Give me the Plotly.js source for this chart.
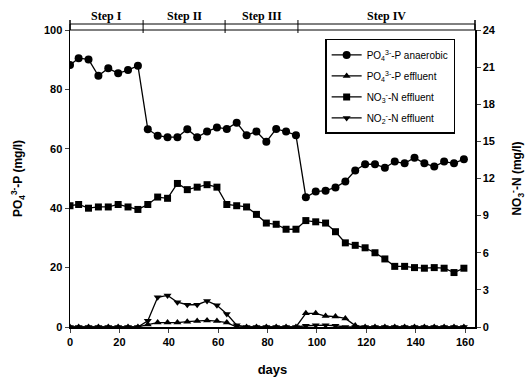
<!DOCTYPE html>
<html>
<head>
<meta charset="utf-8">
<script src="https://cdn.plot.ly/plotly-3.0.1.min.js"></script>
<style>html,body{margin:0;padding:0;background:#fff;}#chart{width:532px;height:382px;}</style>
</head>
<body>
<div id="chart"></div>
<script>
// sampling days
const days = [0, 3.5, 7.5, 11.5, 15.5, 19.5, 23.5, 27.5, 31.5, 35.5, 39.5, 43.5, 47.5, 51.5, 55.5, 59.5,
  63.5, 67.5, 71.5, 75.5, 79.5, 83.5, 87.5, 91.5, 95.5, 99.5, 103.5, 107.5, 111.5, 115.5, 119.5,
  123.5, 127.5, 131.5, 135.5, 139.5, 143.5, 147.5, 151.5, 155.5, 159.5];

// PO4-P anaerobic (mg/l, left axis)
const po4Anaerobic = [88.2, 90.5, 90.1, 84.6, 87.1, 85.4, 86.5, 88.0, 66.6, 64.4, 63.9, 63.9, 66.6, 63.9, 65.8, 67.2,
  66.7, 68.8, 64.6, 65.8, 62.4, 66.7, 65.8, 64.6, 43.7, 45.6, 45.9, 47.0, 49.0, 52.7, 54.8,
  54.8, 53.6, 55.7, 55.1, 57.0, 55.1, 54.0, 55.7, 55.1, 56.5];

// PO4-P effluent (mg/l, left axis)
const po4Effluent = [0, 0, 0, 0, 0, 0, 0, 0, 0.8, 1.5, 1.5, 1.5, 1.8, 2.0, 2.2, 2.0,
  1.5, 0, 0, 0, 0, 0, 0, 0, 4.6, 4.6, 3.7, 3.5, 2.9, 0.5, 0,
  0, 0, 0, 0, 0, 0, 0, 0, 0, 0];

// NO3-N effluent (mg/l, right axis)
const no3Effluent = [9.8, 9.9, 9.6, 9.7, 9.7, 9.9, 9.7, 9.5, 9.9, 10.5, 10.4, 11.6, 11.1, 11.3, 11.5, 11.3,
  9.9, 9.8, 9.7, 9.1, 8.4, 8.3, 7.9, 7.9, 8.6, 8.5, 8.4, 7.7, 6.8, 6.6, 6.4,
  6.0, 5.5, 4.9, 4.9, 4.8, 4.75, 4.8, 4.75, 4.4, 4.75];

// NO2-N effluent (mg/l, right axis)
const no2Effluent = [0, 0, 0, 0, 0, 0, 0, 0, 0.5, 2.4, 2.55, 2.0, 1.8, 1.8, 2.1, 1.75,
  1.05, 0.15, 0, 0, 0, 0, 0, 0, 0.1, 0.15, 0.15, 0.1, 0, 0, 0,
  0, 0, 0, 0, 0, 0, 0, 0, 0, 0];

// experimental steps
const stepNames = ["Step I", "Step II", "Step III", "Step IV"];
const stepBounds = [0, 29.6, 62.8, 92.3, 164];

const xTicks = [0, 20, 40, 60, 80, 100, 120, 140, 160];

const lineStyle = {color: "black", width: 1.3};
const traces = [
  {x: days, y: po4Anaerobic, name: "PO<sub>4</sub><sup>3-</sup>-P anaerobic", mode: "lines+markers", legendgroup: "a",
   line: lineStyle, marker: {symbol: "circle", size: 8, color: "black"}},
  {x: days, y: po4Effluent, name: "PO<sub>4</sub><sup>3-</sup>-P effluent", mode: "lines+markers", legendgroup: "b",
   line: lineStyle, marker: {symbol: "triangle-up", size: 7, color: "black"}},
  {x: days, y: no3Effluent, name: "NO<sub>3</sub><sup>-</sup>-N effluent", mode: "lines+markers", yaxis: "y2", legendgroup: "c",
   line: lineStyle, marker: {symbol: "square", size: 7, color: "black"}},
  {x: days, y: no2Effluent, name: "NO<sub>2</sub><sup>-</sup>-N effluent", mode: "lines+markers", yaxis: "y2", legendgroup: "d",
   line: lineStyle, marker: {symbol: "triangle-down", size: 7, color: "black"}}
];

const bandTop = 1 + 6 / 297;
const shapes = [
  {type: "rect", xref: "paper", yref: "paper", x0: 0, x1: 1, y0: 1, y1: bandTop, line: {color: "black", width: 1}},
  {type: "line", xref: "paper", yref: "paper", x0: 0, x1: 0, y0: 1, y1: 1 + 10 / 297, line: {color: "black", width: 1.5}},
  {type: "line", xref: "paper", yref: "paper", x0: 1, x1: 1, y0: 1, y1: 1 + 10 / 297, line: {color: "black", width: 1.5}}
];
const annotations = [];
for (let i = 0; i < stepNames.length; i++) {
  if (i > 0) {
    shapes.push({type: "line", xref: "x", yref: "paper", x0: stepBounds[i], x1: stepBounds[i],
      y0: 1 - 3 / 297, y1: 1 + 10 / 297, line: {color: "black", width: 1}});
  }
  annotations.push({xref: "x", yref: "paper", x: (stepBounds[i] + stepBounds[i + 1]) / 2, y: 1 + 14 / 297,
    yanchor: "middle", text: "<b>" + stepNames[i] + "</b>", showarrow: false,
    font: {family: "Liberation Serif", size: 12, color: "black"}});
}

const tickFont = {family: "Liberation Sans", size: 11, color: "black", weight: "bold"};
const titleFont = {family: "Liberation Sans", size: 12, color: "black", weight: "bold"};
const layout = {
  width: 532, height: 382,
  margin: {l: 70, r: 57, t: 30, b: 55},
  paper_bgcolor: "white", plot_bgcolor: "white",
  showlegend: true,
  legend: {x: 0.63, y: 0.97, xanchor: "left", yanchor: "top", bgcolor: "white", tracegroupgap: 2,
    bordercolor: "black", borderwidth: 1.5, font: {family: "Liberation Sans", size: 10, color: "black"}},
  xaxis: {range: [0, 164], tickvals: xTicks, ticks: "outside", ticklen: 4, showgrid: false, zeroline: false,
    showline: true, linecolor: "black", linewidth: 1.5, tickfont: tickFont,
    title: {text: "days", font: {family: "Liberation Sans", size: 13, color: "black", weight: "bold"}, standoff: 18}},
  yaxis: {range: [0, 100], dtick: 20, ticks: "outside", ticklen: 4, showgrid: false, zeroline: false,
    showline: true, linecolor: "black", linewidth: 1.5, tickfont: tickFont,
    title: {text: "PO<sub>4</sub><sup>3-</sup>-P (mg/l)", font: titleFont, standoff: 18}},
  yaxis2: {range: [0, 24], dtick: 3, overlaying: "y", side: "right", ticks: "outside", ticklen: 4, showgrid: false,
    zeroline: false, showline: true, linecolor: "black", linewidth: 1.5, tickfont: tickFont,
    title: {text: "NO<sub>3</sub><sup>-</sup>-N (mg/l)", font: titleFont, standoff: 18}},
  shapes: shapes,
  annotations: annotations
};

Plotly.newPlot("chart", traces, layout, {displayModeBar: false, staticPlot: true});
</script>
</body>
</html>
